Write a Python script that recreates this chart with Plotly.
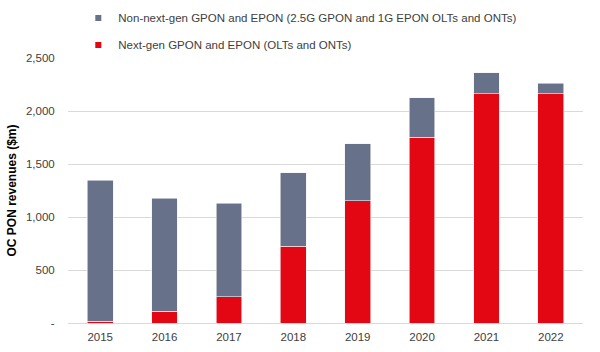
import plotly.graph_objects as go

years = ["2015", "2016", "2017", "2018", "2019", "2020", "2021", "2022"]
next_gen = [15, 110, 250, 726, 1152, 1752, 2164, 2164]
total = [1346, 1179, 1129, 1419, 1689, 2126, 2362, 2261]
non_next_gen = [t - n for t, n in zip(total, next_gen)]

name_non = "Non-next-gen GPON and EPON (2.5G GPON and 1G EPON OLTs and ONTs)"
name_next = "Next-gen GPON and EPON (OLTs and ONTs)"
color_non = "#68718A"
color_next = "#E30613"

y_tickvals = [0, 500, 1000, 1500, 2000, 2500]
y_ticktext = ["-", "500", "1,000", "1,500", "2,000", "2,500"]

fig = go.Figure()
fig.add_trace(go.Bar(x=years, y=next_gen, name=name_next, marker_color=color_next,
                     marker_line=dict(width=0.6, color="#F2F2F2"), showlegend=False))
fig.add_trace(go.Bar(x=years, y=non_next_gen, name=name_non, marker_color=color_non,
                     marker_line=dict(width=0.6, color="#F2F2F2"), showlegend=False))
# legend entries
fig.add_trace(go.Scatter(x=[None], y=[None], mode="markers", name=name_non,
                         marker=dict(symbol="square", size=6, color=color_non), legendgroup="a"))
fig.add_trace(go.Scatter(x=[None], y=[None], mode="markers", name=name_next,
                         marker=dict(symbol="square", size=6, color=color_next), legendgroup="b"))

fig.update_layout(
    width=600, height=352,
    margin=dict(l=67.5, r=16.5, t=58, b=29.3, autoexpand=False),
    barmode="stack", bargap=0.6,
    plot_bgcolor="white", paper_bgcolor="white",
    font=dict(family="Liberation Sans, Arial, sans-serif", size=11, color="#404040"),
    legend=dict(x=0.02, y=1.206, xanchor="left", yanchor="top",
                font=dict(size=11.5, color="#404040"), tracegroupgap=8,
                itemwidth=30, bgcolor="rgba(0,0,0,0)"),
)
fig.update_xaxes(showgrid=False, showline=True, linecolor="#D9D9D9", linewidth=1,
                 ticks="outside", ticklen=3, tickcolor="rgba(0,0,0,0)",
                 tickfont=dict(size=11.5, color="#404040"))
fig.update_yaxes(range=[0, 2500], tickvals=y_tickvals, ticktext=y_ticktext,
                 showgrid=True, gridcolor="#D9D9D9", gridwidth=1,
                 zeroline=False, ticks="outside", ticklen=10, tickcolor="rgba(0,0,0,0)",
                 tickfont=dict(size=11.5, color="#404040"),
                 title=dict(text="<b>OC PON revenues ($m)</b>", font=dict(size=12, color="black"),
                            standoff=6))

fig.write_html("out.html")
